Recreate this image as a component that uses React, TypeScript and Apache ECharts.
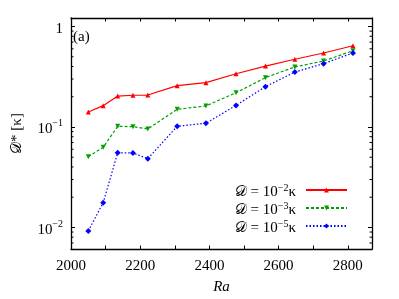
import React, { useEffect, useRef } from "react";
import * as echarts from "echarts";

const raValues = [2050, 2093, 2135, 2179, 2222, 2307, 2390, 2477, 2562, 2647, 2730, 2815];
const seriesD2 = [0.141, 0.163, 0.203, 0.207, 0.208, 0.258, 0.276, 0.339, 0.404, 0.472, 0.545, 0.644];
const seriesD3 = [0.0506, 0.0628, 0.1016, 0.1007, 0.0955, 0.15, 0.162, 0.219, 0.31, 0.396, 0.454, 0.574];
const seriesD5 = [0.00922, 0.01766, 0.0554, 0.0551, 0.0484, 0.1016, 0.109, 0.164, 0.252, 0.352, 0.427, 0.545];
const seriesNames = ["𝒟 = 10⁻²κ", "𝒟 = 10⁻³κ", "𝒟 = 10⁻⁵κ"];
const legendExps = ["−2", "−3", "−5"];
const yMinorTicks = [0.007, 0.008, 0.009, 0.02, 0.03, 0.04, 0.05, 0.06, 0.07, 0.08, 0.09, 0.2, 0.3, 0.4, 0.5, 0.6, 0.7, 0.8, 0.9];

const X_MIN = 2000;
const X_MAX = 2870;
const Y_MIN = 0.0061;
const Y_MAX = 1.216;
const FONT = "'Liberation Serif', 'DejaVu Serif', serif";

function yLabel(v: number): string {
  const l = Math.log10(v);
  const r = Math.round(l);
  if (Math.abs(l - r) > 1e-6) return "";
  if (r === 0) return "{b|1}";
  return "{b|10}{s|" + (r < 0 ? "−" + -r : String(r)) + "}";
}

export default function App() {
  const ref = useRef<HTMLDivElement>(null);
  useEffect(() => {
    if (!ref.current) return;
    const chart = echarts.init(ref.current, undefined, { renderer: "svg" });
    const labelRich = {
      b: { fontFamily: FONT, fontSize: 15, color: "#000", lineHeight: 18, verticalAlign: "bottom" },
      s: { fontFamily: FONT, fontSize: 10, color: "#000", lineHeight: 10, verticalAlign: "top" },
    };
    const axisLine = { show: true, onZero: false, lineStyle: { color: "#000", width: 1.3 } };
    const xBase = {
      type: "value",
      min: X_MIN,
      max: X_MAX,
      interval: 100,
      splitLine: { show: false },
      axisLine,
      axisTick: { show: true, inside: true, length: 3.5, lineStyle: { color: "#000", width: 1 } },
    };
    const yBase = {
      type: "log",
      logBase: 10,
      min: Y_MIN,
      max: Y_MAX,
      splitLine: { show: false },
      axisLine,
      axisTick: { show: true, inside: true, length: 4, lineStyle: { color: "#000", width: 1 } },
    };
    const mk = (color: string, symbol: string, rotate: number, type: any, size: number) => ({
      type: "line",
      symbol,
      symbolSize: size,
      symbolRotate: rotate,
      itemStyle: { color },
      lineStyle: { color, width: 1.2, type },
    });
    const d2 = mk("#ff0000", "triangle", 0, "solid", 5);
    const d3 = mk("#00a000", "triangle", 180, [3, 2], 5);
    const d5 = mk("#0000ff", "diamond", 0, [1.5, 2], 6);
    const option: any = {
      animation: false,
      grid: { left: 65, right: 27, top: 18, bottom: 50, containLabel: false },
      xAxis: [
        {
          ...xBase,
          position: "bottom",
          name: "Ra",
          nameLocation: "middle",
          nameGap: 29,
          nameTextStyle: { fontFamily: FONT, fontSize: 15, fontStyle: "italic", color: "#000" },
          axisLabel: {
            show: true,
            margin: 8,
            showMaxLabel: false,
            fontFamily: FONT,
            fontSize: 15,
            color: "#000",
            formatter: (v: number) => (Math.round(v) % 200 === 0 ? String(Math.round(v)) : ""),
          },
        },
        { ...xBase, position: "top", axisLabel: { show: false } },
      ],
      yAxis: [
        {
          ...yBase,
          position: "left",
          name: "𝒟* [κ]",
          nameLocation: "middle",
          nameRotate: 90,
          nameGap: 48,
          nameTextStyle: { fontFamily: FONT, fontSize: 15, color: "#000" },
          axisLabel: {
            show: true,
            margin: 8,
            showMinLabel: false,
            showMaxLabel: false,
            formatter: yLabel,
            rich: labelRich,
          },
        },
        { ...yBase, position: "right", axisLabel: { show: false } },
      ],
      legend: {
        orient: "vertical",
        right: 46,
        top: 177,
        align: "right",
        itemWidth: 41,
        itemHeight: 6,
        itemGap: 2,
        data: seriesNames,
        formatter: (name: string) => {
          const i = seriesNames.indexOf(name);
          return "{a|𝒟 = 10}{s|" + legendExps[i] + "}{a|κ}";
        },
        textStyle: {
          padding: [0, 5, 0, 0],
          rich: {
            a: { fontFamily: FONT, fontSize: 15, color: "#000", lineHeight: 16, verticalAlign: "bottom" },
            s: { fontFamily: FONT, fontSize: 10, color: "#000", lineHeight: 10, verticalAlign: "top" },
          },
        },
      },
      series: [
        { ...d2, name: seriesNames[0], data: raValues.map((x, i) => [x, seriesD2[i]]) },
        { ...d3, name: seriesNames[1], data: raValues.map((x, i) => [x, seriesD3[i]]) },
        { ...d5, name: seriesNames[2], data: raValues.map((x, i) => [x, seriesD5[i]]) },
      ],
      graphic: [
        {
          type: "text",
          left: 73,
          top: 28,
          style: { text: "(a)", fontFamily: FONT, fontSize: 15, fill: "#000" },
        },
      ],
    };
    chart.setOption(option);
    const xl = chart.convertToPixel({ xAxisIndex: 0 }, X_MIN) as number;
    const xr = chart.convertToPixel({ xAxisIndex: 0 }, X_MAX) as number;
    const ticks: any[] = [];
    yMinorTicks.forEach((v) => {
      const y = chart.convertToPixel({ yAxisIndex: 0 }, v) as number;
      ticks.push({ type: "line", shape: { x1: xl, y1: y, x2: xl + 2.5, y2: y }, style: { stroke: "#000", lineWidth: 1 } });
      ticks.push({ type: "line", shape: { x1: xr, y1: y, x2: xr - 2.5, y2: y }, style: { stroke: "#000", lineWidth: 1 } });
    });
    chart.setOption({ graphic: [option.graphic[0], ...ticks] }, { replaceMerge: ["graphic"] });
    return () => chart.dispose();
  }, []);
  return <div ref={ref} style={{ position: "fixed", left: 0, top: 0, width: 399, height: 299 }} />;
}
